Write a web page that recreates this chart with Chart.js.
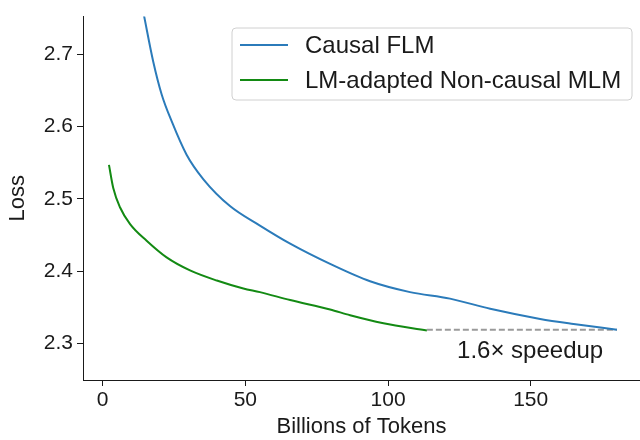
<!DOCTYPE html>
<html>
<head>
<meta charset="utf-8">
<script src="https://cdn.jsdelivr.net/npm/chart.js@4"></script>
<style>
  body { margin: 0; background: #fff; }
  canvas { display: block; }
</style>
</head>
<body>
<canvas id="lossChart" width="640" height="440"></canvas>
<script>
// data
const seriesNames = ['Causal FLM', 'LM-adapted Non-causal MLM'];

const causalTokens = [14.4, 17.7, 20.7, 24.2, 29.4, 35.3, 44.6, 55.1, 65.7, 79.7, 93.7, 107.7, 121.7, 135.8, 153.3, 165, 180.2];
const causalLoss = [2.755, 2.690, 2.644, 2.607, 2.561, 2.527, 2.490, 2.463, 2.438, 2.410, 2.386, 2.371, 2.362, 2.348, 2.334, 2.327, 2.319];

const mlmTokens = [2.2, 3.7, 6.1, 9.6, 15.4, 22.4, 30.6, 40, 49.3, 55.1, 65.7, 79.7, 86.7, 98.4, 113.6];
const mlmLoss = [2.547, 2.515, 2.488, 2.465, 2.442, 2.419, 2.401, 2.387, 2.376, 2.371, 2.360, 2.347, 2.339, 2.328, 2.318];

// dashed speedup guide
const speedupTokens = [113.6, 180.2];
const speedupLoss = [2.319, 2.319];
const speedupLabel = '1.6\u00d7 speedup';

const xTicks = [0, 50, 100, 150];
const yTicks = [2.3, 2.4, 2.5, 2.6, 2.7];

const FONT = '"Liberation Sans", Arial, Helvetica, sans-serif';
const colors = ['#2b7bba', '#138a13'];

function toPoints(xs, ys) {
  return xs.map((x, i) => ({ x: x, y: ys[i] }));
}

// legend box + annotation text drawn on top
const overlay = {
  id: 'overlay',
  afterDatasetsDraw(chart) {
    const c = chart.ctx;
    const xs = chart.scales.x, ys = chart.scales.y;
    c.save();
    // annotation
    c.font = '24px ' + FONT;
    c.fillStyle = '#1a1a1a';
    c.textAlign = 'center';
    c.textBaseline = 'middle';
    c.fillText(speedupLabel, xs.getPixelForValue(149.8), ys.getPixelForValue(2.2894));

    // legend
    const bx = 232, by = 28, bw = 400, bh = 72;
    c.beginPath();
    c.roundRect(bx, by, bw, bh, 4);
    c.fillStyle = 'rgba(255,255,255,0.85)';
    c.fill();
    c.strokeStyle = '#d0d0d0';
    c.lineWidth = 1;
    c.stroke();
    c.textAlign = 'left';
    seriesNames.forEach((name, i) => {
      const y = 45 + i * 35;
      c.beginPath();
      c.moveTo(240, y);
      c.lineTo(288, y);
      c.strokeStyle = colors[i];
      c.lineWidth = 2;
      c.stroke();
      c.fillStyle = '#1a1a1a';
      c.fillText(name, 305, y + 1);
    });
    c.restore();
  }
};

const ctx = document.getElementById('lossChart').getContext('2d');
new Chart(ctx, {
  type: 'line',
  data: {
    datasets: [
      {
        label: seriesNames[0],
        data: toPoints(causalTokens, causalLoss),
        borderColor: colors[0],
        borderWidth: 2,
        pointRadius: 0,
        cubicInterpolationMode: 'monotone',
      },
      {
        label: seriesNames[1],
        data: toPoints(mlmTokens, mlmLoss),
        borderColor: colors[1],
        borderWidth: 2,
        pointRadius: 0,
        cubicInterpolationMode: 'monotone',
      },
      {
        label: 'speedup',
        data: toPoints(speedupTokens, speedupLoss),
        borderColor: '#9a9a9a',
        borderWidth: 2,
        borderDash: [6, 3],
        pointRadius: 0,
      },
    ],
  },
  options: {
    responsive: false,
    animation: false,
    devicePixelRatio: 1,
    layout: { padding: { top: 15, right: 0, left: 0, bottom: 0 }, autoPadding: false },
    plugins: {
      legend: { display: false },
      tooltip: { enabled: false },
    },
    scales: {
      x: {
        type: 'linear',
        min: -6.9,
        max: 188.3,
        afterBuildTicks: (s) => { s.ticks = xTicks.map(v => ({ value: v })); },
        afterFit: (s) => { s.height = 60; },
        grid: { drawOnChartArea: false, drawTicks: true, tickLength: 6, tickColor: '#1a1a1a' },
        border: { display: true, color: '#1a1a1a', width: 1 },
        ticks: { color: '#1a1a1a', padding: 2, font: { family: FONT, size: 21 }, maxRotation: 0 },
        title: { display: true, text: 'Billions of Tokens', color: '#1a1a1a', font: { family: FONT, size: 22 }, padding: { top: 0, bottom: 0 } },
      },
      y: {
        min: 2.2495,
        max: 2.752,
        afterBuildTicks: (s) => { s.ticks = yTicks.map(v => ({ value: v })); },
        afterFit: (s) => { s.width = 83; },
        grid: { drawOnChartArea: false, drawTicks: true, tickLength: 6, tickColor: '#1a1a1a' },
        border: { display: true, color: '#1a1a1a', width: 1 },
        ticks: { color: '#1a1a1a', padding: 4, font: { family: FONT, size: 21 }, callback: (v) => v.toFixed(1) },
        title: { display: true, text: 'Loss', color: '#1a1a1a', font: { family: FONT, size: 22 }, padding: { top: 5, bottom: 0 } },
      },
    },
  },
  plugins: [overlay],
});
</script>
</body>
</html>
